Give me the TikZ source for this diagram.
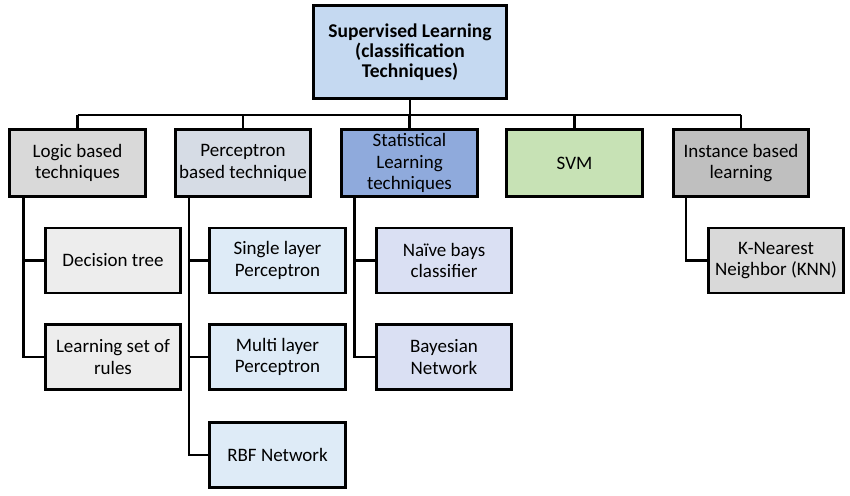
\documentclass[tikz,border=0pt]{standalone}
\usepackage{fontspec}
\setmainfont{Carlito}
\definecolor{ctop}{HTML}{C5D9F1}
\definecolor{clogic}{HTML}{D9D9D9}
\definecolor{cperc}{HTML}{D6DCE5}
\definecolor{cstat}{HTML}{8FAADC}
\definecolor{csvm}{HTML}{C7E2B5}
\definecolor{cinst}{HTML}{BFBFBF}
\definecolor{cdt}{HTML}{EDEDED}
\definecolor{csl}{HTML}{DEEBF7}
\definecolor{cnb}{HTML}{DAE0F3}
\definecolor{cknn}{HTML}{D9D9D9}
\begin{document}
\begin{tikzpicture}[x=1pt,y=-1pt,
  box/.style={draw=black,line width=2.7pt,inner sep=0pt,minimum width=135.5pt,align=center,font=\fontsize{19}{21.5}\selectfont,text=black},
  lone/.style={box,minimum height=67.5pt},
  ltwo/.style={box,minimum height=65pt},
  conn/.style={line width=2.7pt}]
\useasboundingbox (0,0) rectangle (850,495);
\node[box,fill=ctop,minimum width=193.5pt,minimum height=93.5pt,font=\bfseries\fontsize{19.5}{20}\selectfont] (top) at (410,52) {Supervised Learning\\(classification\\Techniques)};
\node[lone,fill=clogic] (logic) at (77.5,163) {Logic based\\techniques};
\node[lone,fill=cperc] (perc) at (243,163) {Perceptron\\based technique};
\node[lone,fill=cstat] (stat) at (409.5,163) {Statistical\\Learning\\techniques};
\node[lone,fill=csvm] (svm) at (574.5,163) {SVM};
\node[lone,fill=cinst] (inst) at (741,163) {Instance based\\learning};
\node[ltwo,fill=cdt] (dt) at (113,260.5) {Decision tree};
\node[ltwo,fill=cdt] (ls) at (113,357) {Learning set of\\rules};
\node[ltwo,fill=csl] (sl) at (277.5,260.5) {Single layer\\Perceptron};
\node[ltwo,fill=csl] (ml) at (277.5,357) {Multi layer\\Perceptron};
\node[ltwo,fill=csl] (rbf) at (277.5,455) {RBF Network};
\node[ltwo,fill=cnb] (nb) at (444,260.5) {Naïve bays\\classifier};
\node[ltwo,fill=cnb] (bn) at (444,357) {Bayesian\\Network};
\node[ltwo,fill=cknn] (knn) at (776,260.5) {K-Nearest\\Neighbor (KNN)};
\coordinate (bus) at (0,115);
\draw[conn] (top.south) -- (top.south |- bus);
\draw[conn] (logic.north |- bus) -- (inst.north |- bus);
\foreach \n in {logic,perc,stat,svm,inst} \draw[conn] (\n.north) -- (\n.north |- bus);
\draw[conn] ([xshift=15pt]logic.south west) |- (dt.west);
\draw[conn] ([xshift=15pt]logic.south west) |- (ls.west);
\draw[conn] ([xshift=15pt]perc.south west) |- (sl.west);
\draw[conn] ([xshift=15pt]perc.south west) |- (ml.west);
\draw[conn] ([xshift=15pt]perc.south west) |- (rbf.west);
\draw[conn] ([xshift=14pt]stat.south west) |- (nb.west);
\draw[conn] ([xshift=14pt]stat.south west) |- (bn.west);
\draw[conn] ([xshift=14pt]inst.south west) |- (knn.west);
\end{tikzpicture}
\end{document}
